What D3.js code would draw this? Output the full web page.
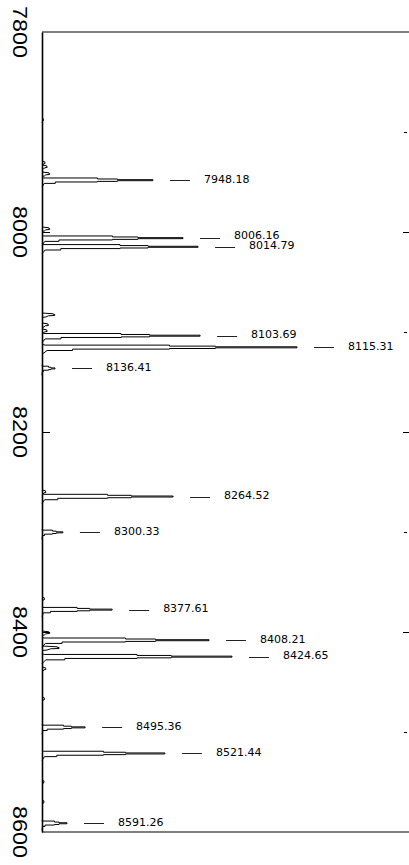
<!DOCTYPE html>
<html>
<head>
<meta charset="utf-8">
<script src="https://cdn.jsdelivr.net/npm/d3@7"></script>
<style>
  html, body { margin: 0; padding: 0; background: #fff; }
  svg { display: block; }
</style>
</head>
<body>
<div id="chart"></div>
<script>
// ---- data ----
const axisTicks = [7800, 8000, 8200, 8400, 8600];
const axisTickLabels = ["7800", "8000", "8200", "8400", "8600"];
const minorTicks = [7900, 8100, 8300, 8500];

const peakMass = [7948.18, 8006.16, 8014.79, 8103.69, 8115.31, 8136.41, 8264.52,
                  8300.33, 8377.61, 8408.21, 8424.65, 8495.36, 8521.44, 8591.26];
const peakIntensity = [43.5, 55.3, 61.2, 62.0, 100, 5.1, 51.4,
                       8.2, 27.5, 65.5, 74.5, 16.9, 48.2, 9.8];
const peakLabels = ["7948.18", "8006.16", "8014.79", "8103.69", "8115.31", "8136.41", "8264.52",
                    "8300.33", "8377.61", "8408.21", "8424.65", "8495.36", "8521.44", "8591.26"];

const minorMass = [7888, 7931, 7935, 7942, 7997, 8083, 8093, 8099, 8260, 8367, 8401, 8416, 8437, 8467, 8550, 8570];
const minorIntensity = [0.6, 1.2, 2, 3, 3, 5, 2.5, 2, 1.5, 1, 3, 6.7, 1.5, 1, 0.8, 0.8];

// stepped peak outlines: [mass offset, fraction of peak height]
const peakShape = [[-3, 0], [-2.2, 0.012], [-2.2, 0.5], [-1.2, 0.5], [-1.2, 0.68], [-0.5, 0.68],
                   [-0.5, 1], [0.5, 1], [0.5, 0.68], [1.2, 0.68], [1.2, 0.5], [1.8, 0.5],
                   [1.8, 0.12], [3.2, 0.12], [3.2, 0.02], [7, 0]];
const minorShape = [[-2, 0], [-1.2, 0.9], [-0.5, 0.9], [-0.5, 1], [0.5, 1], [0.8, 0.5], [2, 0.3], [2.5, 0]];

// ---- drawing ----
const W = 409, H = 865;
const svg = d3.select("#chart").append("svg").attr("width", W).attr("height", H);

const y = d3.scaleLinear().domain([7800, 8600]).range([32, 832]);
const x = d3.scaleLinear().domain([0, 100]).range([42, 297]);
const xLeft = 42, xRight = 411;

// frame lines
svg.append("line").attr("x1", xLeft).attr("x2", xRight)
  .attr("y1", y(7800)).attr("y2", y(7800)).attr("stroke", "#000").attr("stroke-width", 1.2);
svg.append("line").attr("x1", xLeft).attr("x2", xRight)
  .attr("y1", y(8600)).attr("y2", y(8600)).attr("stroke", "#000").attr("stroke-width", 1.2);

// left axis (ticks pointing inward)
const leftAxis = svg.append("g").attr("transform", `translate(${xLeft},0)`)
  .call(d3.axisRight(y).tickValues([8000, 8200, 8400]).tickSize(8).tickSizeOuter(0).tickFormat(""));
leftAxis.select(".domain").attr("stroke-width", 1.6);

// right axis ticks
svg.append("g").attr("transform", `translate(${xRight},0)`)
  .call(d3.axisLeft(y).tickValues([8000, 8200, 8400]).tickSize(8).tickSizeOuter(0).tickFormat(""));
svg.append("g").attr("transform", `translate(${xRight - 4},0)`)
  .call(d3.axisLeft(y).tickValues(minorTicks).tickSize(3).tickSizeOuter(0).tickFormat(""))
  .select(".domain").remove();

// rotated axis labels
svg.append("g").selectAll("text").data(axisTicks).join("text")
  .attr("transform", d => `translate(13,${y(d)}) rotate(90) scale(1.17,1)`)
  .attr("text-anchor", "middle")
  .attr("font-family", "'Liberation Sans', Arial, sans-serif")
  .attr("font-size", 20)
  .attr("fill", "#000")
  .text((d, i) => axisTickLabels[i]);

// spectrum trace
const line = d3.line().x(d => x(d[1])).y(d => y(d[0]));
const peakPts = (m, I, shape) => shape.map(s => [m + s[0], I * s[1]]);

const trace = svg.append("g").attr("fill", "none").attr("stroke", "#000").attr("stroke-width", 1);
minorMass.forEach((m, i) => {
  trace.append("path").attr("d", line(peakPts(m, minorIntensity[i], minorShape)));
});
peakMass.forEach((m, i) => {
  trace.append("path").attr("d", line(peakPts(m, peakIntensity[i], peakShape)));
});

// peak annotations (labels very close to the next one are nudged up slightly)
const ann = svg.append("g");
peakMass.forEach((m, i) => {
  const tx = x(peakIntensity[i]);
  const ty = Math.round(y(m)) + 0.5;
  const crowded = i + 1 < peakMass.length && (y(peakMass[i + 1]) - y(m)) < 10;
  ann.append("line").attr("x1", tx + 17).attr("x2", tx + 37)
    .attr("y1", ty).attr("y2", ty).attr("stroke", "#222").attr("stroke-width", 1);
  ann.append("text").attr("x", tx + 51).attr("y", y(m) + (crowded ? 0.5 : 2.5))
    .attr("font-family", "'DejaVu Sans', sans-serif").attr("font-size", 11)
    .attr("fill", "#000").text(peakLabels[i]);
});
</script>
</body>
</html>
